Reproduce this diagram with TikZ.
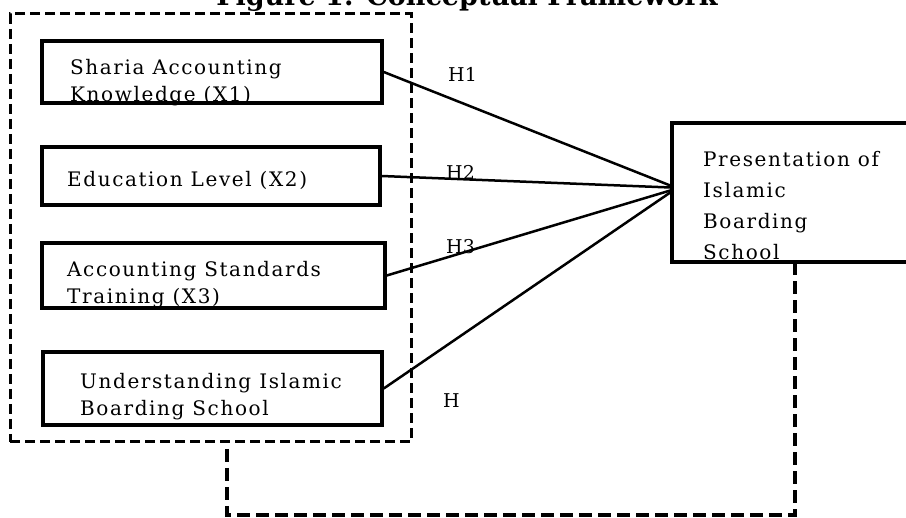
\documentclass[tikz,border=0pt]{standalone}
\usepackage{fontspec}
\setmainfont{DejaVu Serif}
\newfontfamily\boxfont[LetterSpace=8]{DejaVu Serif}
\usetikzlibrary{positioning,calc}
\tikzset{
  varbox/.style={draw,line width=3.5pt,rectangle,inner sep=0pt},
  vartext/.style={anchor=north west,align=left,inner sep=0pt,font=\boxfont\fontsize{20}{27}\selectfont},
  hyplabel/.style={anchor=base west,inner sep=0pt,font=\fontsize{19}{23}\selectfont},
  linkline/.style={line width=2.5pt},
  grpframe/.style={draw,line width=3pt,dash pattern=on 10pt off 5pt,rectangle,inner sep=0pt},
  loopline/.style={line width=4pt,dash pattern=on 13pt off 6pt}
}

\begin{document}
\begin{tikzpicture}[x=1pt,y=-1pt]
  \useasboundingbox (0,0) rectangle (906,518);
  % title, top half falls off the page
  \node[anchor=base,inner sep=0pt,font=\fontsize{27}{30}\selectfont\bfseries] (title) at (467,6) {Figure 1: Conceptual Framework};
  % dashed group of independent variables
  \node[grpframe,minimum width=401pt,minimum height=428pt] (grp) at (210.5,228) {};
  % variable boxes
  \node[vartext] (x1t) at (70,59) {Sharia Accounting\\Knowledge (X1)};
  \node[vartext] (x2t) at (67,171) {Education Level (X2)};
  \node[vartext] (x3t) at (67,261) {Accounting Standards\\Training (X3)};
  \node[vartext] (x4t) at (80,373) {Understanding Islamic\\Boarding School};
  \node[varbox,minimum width=340pt,minimum height=62pt] (x1) at (212,72) {};
  \node[varbox,minimum width=338pt,minimum height=58pt] (x2) at (211,176) {};
  \node[varbox,minimum width=343pt,minimum height=65pt] (x3) at (213.5,275.5) {};
  \node[varbox,minimum width=339pt,minimum height=73pt] (x4) at (212.5,388.5) {};
  % dependent variable
  \node[vartext,font=\boxfont\fontsize{20}{31}\selectfont] (yt) at (703,151) {Presentation of\\Islamic\\Boarding\\School};
  \node[varbox,minimum width=246pt,minimum height=139pt] (pres) at (795,192.5) {};
  % hypotheses
  \draw[linkline] (x1.east) -- ([yshift=7pt]pres.west);
  \draw[linkline] (x2.east) -- ([yshift=5pt]pres.west);
  \draw[linkline] (x3.east) -- ([yshift=2pt]pres.west);
  \draw[linkline] (x4.east) -- ([yshift=0pt]pres.west);
  \node[hyplabel] (h1) at (448,82) {H1};
  \node[hyplabel] (h2) at (446,180) {H2};
  \node[hyplabel] (h3) at (446,254) {H3};
  \node[hyplabel] (h4) at (443,408) {H};
  % moderating loop
  \coordinate (gs) at (227,449);
  \coordinate (gb) at (227,515);
  \draw[loopline] (gs) -- (gb) -| (pres.south);
\end{tikzpicture}
\end{document}
